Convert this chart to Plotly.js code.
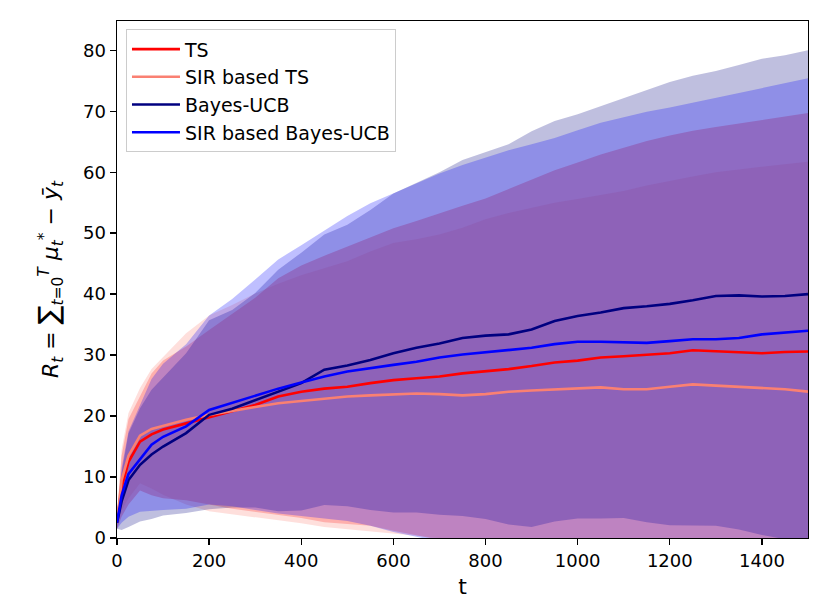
<!DOCTYPE html>
<html>
<head>
<meta charset="utf-8">
<script src="https://cdn.plot.ly/plotly-3.0.1.min.js"></script>
<style>
  body { margin: 0; background: white; }
  #plot { width: 830px; height: 610px; }
</style>
</head>
<body>
<div id="plot"></div>
<script>
const T = [0, 10, 25, 50, 75, 100, 150, 200, 250, 300, 350, 400, 450, 500, 550, 600, 650,
  700, 750, 800, 850, 900, 950, 1000, 1050, 1100, 1150, 1200, 1250, 1300, 1350, 1400, 1450, 1500];

// TS
const tsMean = [2.5, 8.3, 12.5, 15.8, 17.0, 17.8, 18.8, 19.8, 20.8, 21.8, 23.2, 24.0, 24.5, 24.8, 25.4, 25.9,
  26.2, 26.5, 27.0, 27.3, 27.7, 28.2, 28.8, 29.1, 29.6, 29.8, 30.0, 30.3, 30.8, 30.6, 30.4, 30.3, 30.5, 30.6];
const tsHigh = [3.5, 13.5, 19.5, 23.3, 27.0, 29.1, 31.4, 34.1, 36.8, 39.4, 42.6, 44.7, 46.3, 47.8, 49.4, 50.8,
  52.0, 53.3, 54.5, 55.7, 57.2, 58.8, 60.3, 61.6, 62.9, 64.0, 65.1, 66.0, 66.8, 67.4, 68.0, 68.5, 69.1, 69.7];
const tsLow = [1.5, 3.5, 5.5, 7.8, 7.0, 6.5, 6.2, 5.5, 4.8, 4.2, 3.8, 3.3, 2.6, 2.3, 2.0, 1.2,
  0.4, -0.3, -0.5, -1.1, -1.8, -2.4, -2.7, -3.4, -3.7, -4.4, -5.1, -5.4, -5.2, -6.2, -7.2, -7.9, -8.1, -8.5];

// SIR based TS
const sirTsMean = [2.5, 9.5, 13.5, 16.8, 17.9, 18.4, 19.4, 20.2, 20.9, 21.5, 22.1, 22.5, 22.8, 23.2, 23.4, 23.6,
  23.7, 23.6, 23.4, 23.6, 24.0, 24.2, 24.4, 24.6, 24.7, 24.4, 24.4, 24.8, 25.2, 25.0, 24.8, 24.6, 24.4, 24.0];
const sirTsHigh = [3.5, 14.5, 20.5, 24.6, 27.7, 29.7, 33.6, 36.5, 38.2, 40.1, 41.7, 43.1, 44.2, 45.4, 47.0, 48.4,
  49.0, 49.8, 50.9, 52.3, 53.3, 54.1, 55.0, 55.6, 56.2, 56.9, 57.8, 58.6, 59.3, 60.0, 60.5, 60.9, 61.3, 61.7];
const sirTsLow = [1.5, 4.5, 6.5, 9.0, 8.1, 7.1, 5.5, 4.4, 3.9, 3.4, 2.9, 2.4, 1.8, 1.4, 1.1, 0.7,
  0.35, 0.0, -0.6, -1.5, -2.5, -3.5, -4.5, -5.5, -6.5, -7.5, -8.5, -9.5, -10.0, -11.0, -12.0, -12.5, -13.0, -13.7];

// Bayes-UCB
const ucbMean = [2.5, 6.0, 9.5, 12.0, 13.7, 15.0, 17.2, 20.2, 21.2, 22.6, 24.0, 25.4, 27.6, 28.3, 29.2, 30.3,
  31.2, 31.9, 32.8, 33.2, 33.4, 34.2, 35.6, 36.4, 37.0, 37.7, 38.0, 38.4, 39.0, 39.7, 39.8, 39.6, 39.7, 40.0];
const ucbHigh = [3.5, 10.7, 17.2, 21.3, 24.3, 26.3, 30.3, 35.7, 37.4, 40.2, 44.0, 46.8, 49.8, 51.4, 53.8, 56.5,
  58.2, 60.0, 62.0, 63.3, 64.6, 66.7, 68.4, 69.5, 70.8, 72.1, 73.4, 74.8, 75.8, 76.6, 77.6, 78.6, 79.2, 80.0];
const ucbLow = [1.5, 1.3, 1.8, 2.7, 3.1, 3.7, 4.1, 4.7, 5.0, 5.0, 4.4, 4.5, 5.4, 5.2, 4.6, 4.2,
  4.2, 3.8, 3.6, 3.1, 2.2, 1.8, 2.7, 3.2, 3.2, 3.3, 2.6, 2.1, 2.1, 2.0, 1.4, 0.5, -0.2, -0.4];

// SIR based Bayes-UCB
const sirUcbMean = [2.5, 7.0, 10.5, 13.0, 15.3, 16.6, 18.3, 21.0, 22.2, 23.3, 24.5, 25.5, 26.5, 27.3, 27.9, 28.4,
  28.9, 29.6, 30.1, 30.5, 30.8, 31.2, 31.8, 32.2, 32.2, 32.1, 32.0, 32.3, 32.6, 32.6, 32.8, 33.4, 33.7, 34.0];
const sirUcbHigh = [3.5, 11.5, 17.5, 21.7, 26.1, 28.6, 31.8, 36.5, 39.2, 42.4, 45.7, 48.0, 50.4, 52.8, 54.9, 56.5,
  58.1, 59.8, 61.2, 62.4, 63.6, 64.6, 65.6, 66.9, 68.1, 69.0, 69.9, 70.6, 71.4, 72.1, 72.9, 73.7, 74.5, 75.4];
const sirUcbLow = [1.5, 2.5, 3.5, 4.3, 4.5, 4.6, 4.8, 5.5, 5.2, 4.6, 4.0, 3.6, 3.2, 2.8, 2.0, 1.0,
  0.2, -0.6, -1.0, -1.4, -2.0, -2.2, -2.0, -2.5, -3.7, -4.8, -5.9, -6.0, -6.2, -6.9, -7.3, -6.9, -7.1, -7.4];

const series = [
  { name: 'TS', mean: tsMean, lo: tsLow, hi: tsHigh, rgb: [255, 0, 0] },
  { name: 'SIR based TS', mean: sirTsMean, lo: sirTsLow, hi: sirTsHigh, rgb: [250, 128, 114] },
  { name: 'Bayes-UCB', mean: ucbMean, lo: ucbLow, hi: ucbHigh, rgb: [0, 0, 128] },
  { name: 'SIR based Bayes-UCB', mean: sirUcbMean, lo: sirUcbLow, hi: sirUcbHigh, rgb: [0, 0, 255] }
];

var data = [];
// bands first (they sit under every line, like matplotlib's zorder)
series.forEach(function (s) {
  data.push({
    x: T.concat(T.slice().reverse()),
    y: s.hi.concat(s.lo.slice().reverse()),
    type: 'scatter',
    mode: 'lines',
    fill: 'toself',
    fillcolor: 'rgba(' + s.rgb.join(',') + ',0.25)',
    line: { width: 0 },
    hoverinfo: 'skip',
    showlegend: false
  });
});
series.forEach(function (s) {
  data.push({
    x: T,
    y: s.mean,
    type: 'scatter',
    mode: 'lines',
    name: s.name,
    line: { color: 'rgb(' + s.rgb.join(',') + ')', width: 2.6 }
  });
});

const axisStyle = {
  showline: true,
  linecolor: 'black',
  linewidth: 1.4,
  mirror: true,
  ticks: 'outside',
  ticklen: 6,
  tickwidth: 1.4,
  tickcolor: 'black',
  showgrid: false,
  zeroline: false
};

const layout = {
  width: 830,
  height: 610,
  margin: { l: 117, r: 22, t: 21, b: 72 },
  paper_bgcolor: 'white',
  plot_bgcolor: 'white',
  font: { family: 'DejaVu Sans', size: 18, color: 'black' },
  xaxis: Object.assign({}, axisStyle, {
    range: [0, 1500],
    tick0: 0,
    dtick: 200,
    title: { text: 't', standoff: 8 }
  }),
  yaxis: Object.assign({}, axisStyle, {
    range: [0, 84.8],
    tick0: 0,
    dtick: 10,
    title: {
      text: '<i>R</i><sub><i>t</i></sub> = <span style="font-size:28px">\u2211</span><sub><i>t</i>=0</sub><sup><i>T</i></sup> <i>\u03bc</i><sub><i>t</i></sub><sup>*</sup> \u2212 <i>\u0233</i><sub><i>t</i></sub>',
      standoff: 18
    }
  }),
  legend: {
    x: 0.013,
    y: 0.984,
    xanchor: 'left',
    yanchor: 'top',
    bgcolor: 'rgba(255,255,255,0.8)',
    bordercolor: '#cccccc',
    borderwidth: 1,
    itemwidth: 48,
    font: { size: 19 }
  },
  showlegend: true
};

Plotly.newPlot('plot', data, layout, { displayModeBar: false, staticPlot: true });
</script>
</body>
</html>
